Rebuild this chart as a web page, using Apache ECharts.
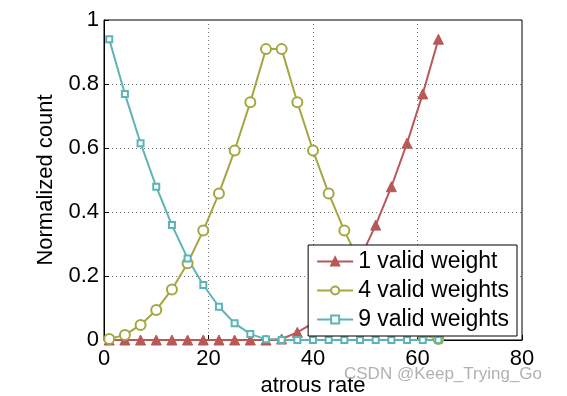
<!DOCTYPE html>
<html>
<head>
<meta charset="utf-8">
<script src="https://cdn.jsdelivr.net/npm/echarts@6/dist/echarts.min.js"></script>
<style>html,body{margin:0;padding:0;background:#fff}#c{width:567px;height:396px}</style>
</head>
<body>
<div id="c"></div>
<script>
const xValues = [1,4,7,10,13,16,19,22,25,28,31,34,37,40,43,46,49,52,55,58,61,64];
const oneValid = [0,0,0,0,0,0,0,0,0,0,0,0.003,0.024,0.053,0.104,0.172,0.255,0.359,0.479,0.615,0.769,0.94];
const fourValid = [0.003,0.016,0.047,0.094,0.158,0.24,0.342,0.458,0.592,0.743,0.909,0.909,0.743,0.592,0.458,0.342,0.24,0.158,0.094,0.047,0.016,0.003];
const nineValid = [0.94,0.769,0.615,0.479,0.359,0.255,0.172,0.104,0.052,0.019,0.002,0,0,0,0,0,0,0,0,0,0,0];
const seriesNames = ['1 valid weight','4 valid weights','9 valid weights'];
const xTicks = [0,20,40,60,80];
const yTicks = [0,0.2,0.4,0.6,0.8,1];

const pairs = arr => xValues.map((x,i)=>[x,arr[i]]);
const FONT = 'Liberation Sans';
const chart = echarts.init(document.getElementById('c'));
const axisCommon = {
  axisLine:{show:true,lineStyle:{color:'#000',width:1}},
  axisTick:{show:true,inside:true,length:5,lineStyle:{color:'#000'}},
  splitLine:{show:true,lineStyle:{color:'#777',type:[1,3],width:1}},
  axisLabel:{color:'#000',fontFamily:FONT,fontSize:22}
};
chart.setOption({
  animation:false,
  backgroundColor:'#fff',
  grid:{left:104,right:45,top:20,bottom:56,containLabel:false,outerBoundsMode:'none',show:true,borderColor:'#000',borderWidth:1,backgroundColor:'transparent'},
  xAxis:Object.assign({},axisCommon,{type:'value',min:xTicks[0],max:xTicks[xTicks.length-1],interval:20,
    name:'atrous rate',nameLocation:'middle',nameGap:30,
    nameTextStyle:{color:'#000',fontFamily:FONT,fontSize:22},
    axisLabel:Object.assign({},axisCommon.axisLabel,{margin:8})}),
  yAxis:Object.assign({},axisCommon,{type:'value',min:yTicks[0],max:yTicks[yTicks.length-1],interval:0.2,
    name:'Normalized count',nameLocation:'middle',nameGap:47,
    nameTextStyle:{color:'#000',fontFamily:FONT,fontSize:22},
    axisLabel:Object.assign({},axisCommon.axisLabel,{margin:5})}),
  legend:{
    right:50,top:245,orient:'vertical',
    backgroundColor:'#fff',borderColor:'#000',borderWidth:1,borderRadius:0,
    padding:[5,8,5,8],itemGap:6,itemWidth:36,itemHeight:10,
    textStyle:{color:'#000',fontFamily:FONT,fontSize:23,lineHeight:23,padding:[0,0,0,0]},
    data:[
      {name:seriesNames[0]},
      {name:seriesNames[1]},
      {name:seriesNames[2]}
    ]
  },
  graphic:[{type:'text',left:344,top:366,z:100,style:{text:'CSDN @Keep_Trying_Go',fill:'rgba(150,150,150,0.75)',font:'17px "Liberation Sans"'}}],
  series:[
    {name:seriesNames[0],type:'line',data:pairs(oneValid),color:'#b85858',symbol:'triangle',symbolSize:10,
     lineStyle:{width:2},itemStyle:{color:'#b85858',borderColor:'#b85858',borderWidth:1}},
    {name:seriesNames[1],type:'line',data:pairs(fourValid),color:'#a5a642',symbol:'emptyCircle',symbolSize:10,
     lineStyle:{width:2},itemStyle:{color:'#a5a642',borderColor:'#a5a642',borderWidth:2}},
    {name:seriesNames[2],type:'line',data:pairs(nineValid),color:'#5eb4b4',symbol:'emptyRect',symbolSize:6,
     lineStyle:{width:2},itemStyle:{color:'#5eb4b4',borderColor:'#5eb4b4',borderWidth:2}}
  ]
});
</script>
</body>
</html>
